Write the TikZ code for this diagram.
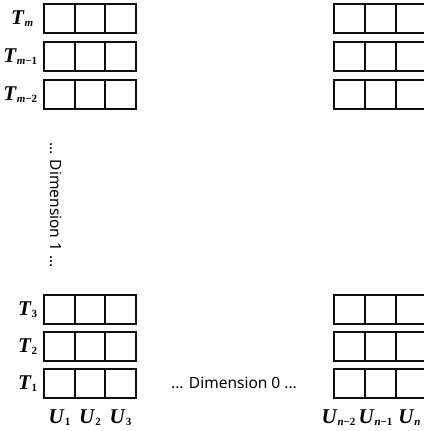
\documentclass[tikz,border=0pt]{standalone}
\usepackage{fontspec}
\setmainfont{Liberation Serif}
\newfontfamily\dimfont{Noto Sans}
\usetikzlibrary{positioning}
\definecolor{CellClr}{rgb}{0.05,0.05,0.05}
\newcommand{\sbx}[1]{\raisebox{-2pt}{\fontsize{11}{11}\selectfont #1}}

\begin{document}
\begin{tikzpicture}[x=1pt,y=1pt,
  cell/.style={draw=CellClr,line width=1.7pt,minimum width=30.5pt,minimum height=29.5pt,inner sep=0pt},
  tlab/.style={font=\fontsize{21}{21}\selectfont\bfseries,inner sep=0pt},
  dimlab/.style={font=\fontsize{15.5}{15.5}\dimfont,inner sep=0pt}]
\useasboundingbox (0,0) rectangle (423,431);

% cells, left and right blocks
\foreach \r/\y in {1/412.5,2/374.5,3/336.5}{
  \foreach \c/\x in {1/59.5,2/90,3/120.5}
    \node[cell] (lt-\r-\c) at (\x,\y) {};
  \foreach \c/\x in {1/349.5,2/380.5,3/411.5}
    \node[cell] (rt-\r-\c) at (\x,\y) {};
}
\foreach \r/\y in {1/47.5,2/84.5,3/121.5}{
  \foreach \c/\x in {1/59.5,2/90,3/120.5}
    \node[cell] (lb-\r-\c) at (\x,\y) {};
  \foreach \c/\x in {1/349.5,2/380.5,3/411.5}
    \node[cell] (rb-\r-\c) at (\x,\y) {};
}

% row labels
\node[tlab,left=6pt of lt-1-1,xshift=-4pt] (tm) {\textit{T}\sbx{\textit{m}}};
\node[tlab,left=6pt of lt-2-1] (tm1) {\textit{T}\sbx{\textit{m}−1}};
\node[tlab,left=6pt of lt-3-1] (tm2) {\textit{T}\sbx{\textit{m}−2}};
\node[tlab,left=6pt of lb-3-1] (t3) {\textit{T}\sbx{3}};
\node[tlab,left=6pt of lb-2-1] (t2) {\textit{T}\sbx{2}};
\node[tlab,left=6pt of lb-1-1] (t1) {\textit{T}\sbx{1}};

% column labels
\node[tlab,below=10pt of lb-1-1] (u1) {\textit{U}\sbx{1}};
\node[tlab,below=10pt of lb-1-2] (u2) {\textit{U}\sbx{2}};
\node[tlab,below=10pt of lb-1-3] (u3) {\textit{U}\sbx{3}};
\node[tlab,below=10pt of rb-1-1,xshift=-11pt] (un2) {\textit{U}\sbx{\textit{n}−2}};
\node[tlab,below=10pt of rb-1-2,xshift=-5pt] (un1) {\textit{U}\sbx{\textit{n}−1}};
\node[tlab,below=10pt of rb-1-3,xshift=-2pt] (un) {\textit{U}\sbx{\textit{n}}};

% dimension labels
\node[dimlab,rotate=-90] (dim1) at (56,226) {... Dimension 1 ...};
\node[dimlab] (dim0) at (234,48) {... Dimension 0 ...};

\end{tikzpicture}
\end{document}
